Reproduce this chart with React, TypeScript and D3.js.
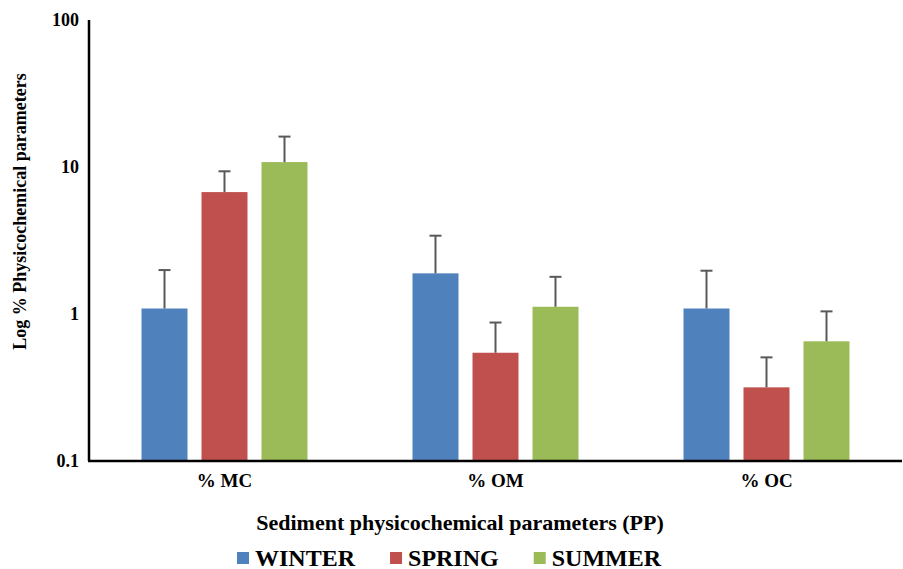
import React, { useEffect, useRef } from 'react'
import * as d3 from 'd3'

const categories = ['% MC', '% OM', '% OC']
const seasons = ['WINTER', 'SPRING', 'SUMMER']
const seasonColors = ['#4F81BD', '#C0504D', '#9BBB59']

// means per category
const winter = [1.09, 1.89, 1.09]
const spring = [6.75, 0.545, 0.317]
const summer = [10.8, 1.12, 0.652]
// upper error (sd)
const winterSd = [0.9, 1.52, 0.88]
const springSd = [2.6, 0.33, 0.19]
const summerSd = [5.3, 0.67, 0.39]

const yTicks = [0.1, 1, 10, 100]
const yTickLabels = ['0.1', '1', '10', '100']

const W = 903
const H = 569
const FONT = '"Liberation Serif", "Times New Roman", serif'

export default function App() {
  const ref = useRef<SVGSVGElement>(null)

  useEffect(() => {
    const svg = d3.select(ref.current)
    svg.selectAll('*').remove()

    const margin = { top: 20, right: 1, bottom: 108, left: 89 }
    const plotW = W - margin.left - margin.right
    const plotH = H - margin.top - margin.bottom

    const series = [winter, spring, summer]
    const sds = [winterSd, springSd, summerSd]
    const data = categories.map((c, i) => ({
      cat: c,
      vals: seasons.map((s, j) => ({ season: s, idx: j, v: series[j][i], sd: sds[j][i] }))
    }))

    const x0 = d3.scaleBand().domain(categories).range([0, plotW]).padding(0)
    const half = 83
    const x1 = d3.scaleBand().domain(seasons)
      .range([x0.bandwidth() / 2 - half, x0.bandwidth() / 2 + half])
      .paddingInner(14 / 60).paddingOuter(0)
    const y = d3.scaleLog().domain([0.1, 100]).range([plotH, 0])

    const g = svg.append('g').attr('transform', `translate(${margin.left},${margin.top})`)

    // bars
    const groups = g.selectAll('g.grp').data(data).enter().append('g')
      .attr('class', 'grp')
      .attr('transform', d => `translate(${x0(d.cat)},0)`)

    groups.selectAll('rect').data(d => d.vals).enter().append('rect')
      .attr('x', d => x1(d.season)!)
      .attr('y', d => y(d.v))
      .attr('width', x1.bandwidth())
      .attr('height', d => plotH - y(d.v))
      .attr('fill', d => seasonColors[d.idx])

    // error bars
    const capW = 12
    const err = groups.selectAll('g.err').data(d => d.vals).enter().append('g').attr('class', 'err')
    err.append('line')
      .attr('x1', d => x1(d.season)! + x1.bandwidth() / 2)
      .attr('x2', d => x1(d.season)! + x1.bandwidth() / 2)
      .attr('y1', d => y(d.v))
      .attr('y2', d => y(d.v + d.sd))
      .attr('stroke', '#595959').attr('stroke-width', 2)
    err.append('line')
      .attr('x1', d => x1(d.season)! + x1.bandwidth() / 2 - capW / 2)
      .attr('x2', d => x1(d.season)! + x1.bandwidth() / 2 + capW / 2)
      .attr('y1', d => y(d.v + d.sd))
      .attr('y2', d => y(d.v + d.sd))
      .attr('stroke', '#595959').attr('stroke-width', 2)

    // axes lines
    g.append('line').attr('x1', 0).attr('x2', 0).attr('y1', 0).attr('y2', plotH)
      .attr('stroke', '#000').attr('stroke-width', 2.5)
    g.append('line').attr('x1', -1).attr('x2', plotW).attr('y1', plotH).attr('y2', plotH)
      .attr('stroke', '#000').attr('stroke-width', 2.5)

    // y tick labels
    g.selectAll('text.yt').data(yTicks).enter().append('text')
      .attr('class', 'yt')
      .attr('x', -10)
      .attr('y', d => y(d) + 6)
      .attr('text-anchor', 'end')
      .attr('font-family', FONT).attr('font-weight', 'bold').attr('font-size', 18)
      .text((d, i) => yTickLabels[i])

    // category labels
    g.selectAll('text.xt').data(categories).enter().append('text')
      .attr('class', 'xt')
      .attr('x', d => x0(d)! + x0.bandwidth() / 2)
      .attr('y', plotH + 26)
      .attr('text-anchor', 'middle')
      .attr('font-family', FONT).attr('font-weight', 'bold').attr('font-size', 19)
      .text(d => d)

    // axis titles
    svg.append('text')
      .attr('transform', `translate(26,${(margin.top + 350 + 73 - margin.top) / 2}) rotate(-90)`)
      .attr('text-anchor', 'middle')
      .attr('font-family', FONT).attr('font-weight', 'bold').attr('font-size', 18)
      .text('Log % Physicochemical parameters')

    svg.append('text')
      .attr('x', 460).attr('y', 530)
      .attr('text-anchor', 'middle')
      .attr('font-family', FONT).attr('font-weight', 'bold').attr('font-size', 22)
      .text('Sediment physicochemical parameters (PP)')

    // legend
    const legend = svg.append('g')
    let lx = 237
    seasons.forEach((s, i) => {
      legend.append('rect').attr('x', lx).attr('y', 552).attr('width', 12).attr('height', 12)
        .attr('fill', seasonColors[i])
      const t = legend.append('text').attr('x', lx + 18).attr('y', 565.5)
        .attr('font-family', FONT).attr('font-weight', 'bold').attr('font-size', 24)
        .text(s)
      const tw = (t.node() as SVGTextElement).getComputedTextLength()
      lx += 18 + tw + 35
    })
  }, [])

  return (
    <svg ref={ref} width={W} height={H}
      style={{ position: 'absolute', left: 0, top: 0, background: '#fff' }} />
  )
}
